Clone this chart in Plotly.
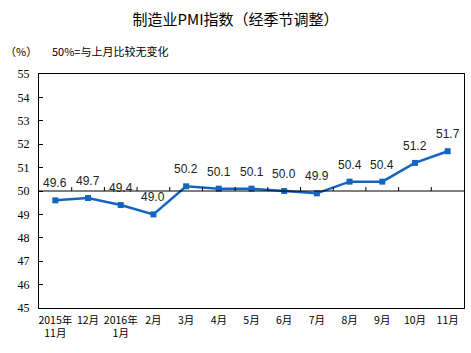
import plotly.graph_objects as go

categories = ["2015年<br>11月", "12月", "2016年<br>1月", "2月", "3月", "4月", "5月",
              "6月", "7月", "8月", "9月", "10月", "11月"]
pmi = [49.6, 49.7, 49.4, 49.0, 50.2, 50.1, 50.1, 50.0, 49.9, 50.4, 50.4, 51.2, 51.7]
y_ticks = [45, 46, 47, 48, 49, 50, 51, 52, 53, 54, 55]

xs = list(range(len(pmi)))
blue = "#1565c0"

fig = go.Figure()
fig.add_trace(go.Scatter(
    x=xs, y=pmi, mode="lines+markers",
    line=dict(color=blue, width=2.5),
    marker=dict(symbol="square", size=6, color=blue),
    hoverinfo="skip", showlegend=False,
))

# 50 reference line (x-axis crossing)
fig.add_shape(type="line", xref="paper", yref="y", x0=0, x1=1, y0=50, y1=50,
              line=dict(color="black", width=1))
# tick marks on the 50 line at category boundaries
for i in range(len(pmi) - 1):
    fig.add_shape(type="line", xref="x", yref="y", x0=i + 0.5, x1=i + 0.5,
                  y0=50, y1=50.17, line=dict(color="black", width=1))

for x, v in zip(xs, pmi):
    fig.add_annotation(x=x, y=v, text=f"{v:.1f}", showarrow=False, yshift=17,
                       font=dict(family="Liberation Sans, Arial", size=12, color="#222"))

fig.add_annotation(xref="paper", yref="paper", x=0.5, y=1, xanchor="center", yanchor="middle",
                   text="<b>制造业PMI指数（经季节调整）</b>", showarrow=False)
fig.update_layout(
    width=471, height=353,
    margin=dict(l=39, r=7, t=74, b=45),
    paper_bgcolor="white", plot_bgcolor="white",
    font=dict(family="Noto Sans CJK SC", size=11, color="black"),
    title=dict(text="制造业PMI指数（经季节调整）", x=0.5, xanchor="center", y=0.945,
               yanchor="middle", font=dict(size=15, family="Noto Sans CJK SC", color="black")),
    xaxis=dict(range=[-0.5, len(pmi) - 0.5], tickvals=xs, ticktext=categories,
               showgrid=False, zeroline=False, showline=True, linecolor="black",
               linewidth=1, mirror=True, ticks="", tickfont=dict(size=10.5),
               ticklabelstandoff=2),
    yaxis=dict(range=[45, 55], tickvals=y_ticks, showgrid=False, zeroline=False,
               showline=True, linecolor="black", linewidth=1, mirror=True,
               ticks="inside", ticklen=4, tickcolor="black",
               tickfont=dict(family="Liberation Serif, Times New Roman", size=12),
               ticklabelstandoff=6),
)
# remove duplicate annotation title (keep layout title)
fig.layout.annotations = fig.layout.annotations[:-1]

fig.add_annotation(xref="paper", yref="paper", x=-0.085, y=1.1, xanchor="left",
                   yanchor="middle", text="（%）", showarrow=False,
                   font=dict(size=11))
fig.add_annotation(xref="paper", yref="paper", x=0.027, y=1.1, xanchor="left",
                   yanchor="middle", text="50%=与上月比较无变化", showarrow=False,
                   font=dict(size=11))

fig.write_html("out.html")
